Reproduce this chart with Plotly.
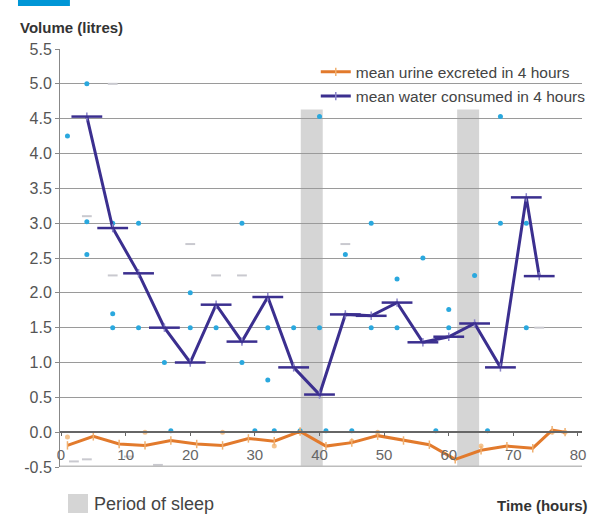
import plotly.graph_objects as go

# Mean water consumed in each 4-hour block (litres)
water_hours = [4, 8, 12, 16, 20, 24, 28, 32, 36, 40, 44, 48, 52, 56, 60, 64, 68, 72, 74]
water_mean = [4.53, 2.93, 2.28, 1.50, 1.00, 1.83, 1.30, 1.94, 0.93, 0.54,
              1.69, 1.67, 1.86, 1.29, 1.37, 1.56, 0.93, 3.37, 2.24]

# Mean urine excreted in each 4-hour block (plotted as negative volume)
urine_hours = [1, 5, 9, 13, 17, 21, 25, 29, 33, 37, 41, 45, 49, 53, 57, 61, 65, 69, 73, 76, 78]
urine_mean = [-0.19, -0.06, -0.17, -0.19, -0.12, -0.17, -0.19, -0.09, -0.13, 0.01, -0.20,
              -0.15, -0.05, -0.12, -0.18, -0.39, -0.26, -0.20, -0.23, 0.03, 0.0]

# Individual water readings
water_pts_x = [1, 4, 4, 4, 8, 8, 8, 12, 12, 16, 20, 20, 24, 28, 28, 32, 32, 36, 40, 40,
               44, 48, 48, 52, 52, 56, 60, 60, 64, 68, 68, 72, 72,
               17, 30, 33, 37, 41, 45, 58, 66]
water_pts_y = [4.25, 5.0, 3.02, 2.55, 3.0, 1.7, 1.5, 3.0, 1.5, 1.0, 2.0, 1.5, 1.5, 3.0, 1.0,
               0.75, 1.5, 1.5, 4.53, 1.5, 2.55, 3.0, 1.5, 2.2, 1.5, 2.5, 1.76, 1.5, 2.25,
               4.53, 3.0, 3.0, 1.5,
               0.02, 0.02, 0.02, 0.02, 0.02, 0.02, 0.02, 0.02]

# Spread markers (light dashes)
spread_x = [4, 8, 8, 20, 24, 28, 44, 74, 4, 15, 10.5, 2]
spread_y = [3.1, 5.0, 2.25, 2.7, 2.25, 2.25, 2.7, 1.5, -0.39, -0.47, -0.35, -0.42]

# Individual urine readings
urine_pts_x = [1, 13, 25, 33, 45, 49, 65, 76, 78]
urine_pts_y = [-0.07, 0.0, 0.0, -0.2, -0.13, 0.0, -0.2, 0.0, 0.0]

# Sleep periods (start hour, end hour) and shaded height
sleep_periods = [(37.1, 40.5), (61.3, 64.7)]
sleep_top = 4.63

y_tick_vals = [-0.5, 0.0, 0.5, 1.0, 1.5, 2.0, 2.5, 3.0, 3.5, 4.0, 4.5, 5.0, 5.5]
y_tick_text = ["-0.5", "0.0", "0.5", "1.0", "1.5", "2.0", "2.5", "3.0", "3.5", "4.0", "4.5", "5.0", "5.5"]
x_tick_vals = [0, 10, 20, 30, 40, 50, 60, 70, 80]
x_tick_text = ["0", "10", "20", "30", "40", "50", "60", "70", "80"]

WATER = "#3b2f8f"
URINE = "#e27a2c"
CYAN = "#2aa8de"
FONT = "Liberation Sans, Arial, sans-serif"

fig = go.Figure()

fig.add_trace(go.Scatter(
    x=spread_x, y=spread_y, mode="markers", showlegend=False, hoverinfo="skip",
    marker=dict(symbol="line-ew", size=7, line=dict(color="#c9c9cf", width=2)),
))
fig.add_trace(go.Scatter(
    x=urine_pts_x, y=urine_pts_y, mode="markers", showlegend=False, hoverinfo="skip",
    marker=dict(symbol="circle", size=5, color="#f5c48f"),
))
fig.add_trace(go.Scatter(
    x=water_pts_x, y=water_pts_y, mode="markers", showlegend=False, hoverinfo="skip",
    marker=dict(symbol="circle", size=5, color=CYAN),
))

# Urine mean line
fig.add_trace(go.Scatter(
    x=urine_hours, y=urine_mean, mode="lines+markers",
    name="mean urine excreted in 4 hours", legend="legend",
    line=dict(color=URINE, width=3),
    marker=dict(symbol="line-ns", size=6, line=dict(color="#f0b070", width=1.5)),
))

# Water mean line
fig.add_trace(go.Scatter(
    x=water_hours, y=water_mean, mode="lines+markers",
    name="mean water consumed in 4 hours", legend="legend2",
    line=dict(color=WATER, width=3),
    marker=dict(symbol="line-ns", size=6, line=dict(color="#8a84c8", width=1.5)),
))
# Wide horizontal bars at each mean
fig.add_trace(go.Scatter(
    x=water_hours, y=water_mean, mode="markers", showlegend=False, hoverinfo="skip",
    marker=dict(symbol="line-ew", size=22, line=dict(color=WATER, width=2.5)),
))

shapes = []
for x0, x1 in sleep_periods:
    shapes.append(dict(type="rect", xref="x", yref="y", x0=x0, x1=x1, y0=-0.5, y1=sleep_top,
                       fillcolor="#d5d5d5", line=dict(width=0), layer="below"))
# Bottom border
shapes.append(dict(type="line", xref="paper", yref="y", x0=0, x1=1, y0=-0.5, y1=-0.5,
                   line=dict(color="#bdbdbd", width=3)))
# "Period of sleep" key swatch
shapes.append(dict(type="rect", xref="paper", yref="paper", x0=0.0153, x1=0.0536,
                   y0=-0.110, y1=-0.0646, fillcolor="#d5d5d5", line=dict(width=0)))
# Blue header tab
shapes.append(dict(type="rect", xref="paper", yref="paper", x0=-0.0805, x1=0.019,
                   y0=1.103, y1=1.13, fillcolor="#0096d6", line=dict(width=0)))

fig.update_layout(
    width=595, height=515,
    margin=dict(l=60, r=13, t=49, b=48, autoexpand=False),
    paper_bgcolor="white", plot_bgcolor="white",
    font=dict(family=FONT, color="#555555", size=14),
    shapes=shapes,
    legend=dict(x=0.49, y=0.985, xanchor="left", yanchor="top", bgcolor="rgba(0,0,0,0)",
                font=dict(size=15.5, color="#444444"), borderwidth=0),
    legend2=dict(x=0.49, y=0.927, xanchor="left", yanchor="top", bgcolor="rgba(0,0,0,0)",
                 font=dict(size=15.5, color="#444444"), borderwidth=0),
    xaxis=dict(
        range=[-0.155, 80.62], anchor="free", position=0.5 / 6,
        tickvals=x_tick_vals, ticktext=x_tick_text,
        showgrid=False, zeroline=False,
        showline=True, linecolor="#666666", linewidth=1.5,
        ticks="outside", ticklen=3, tickcolor="#666666",
        ticklabelstandoff=6,
        tickfont=dict(size=15, color="#666666"),
    ),
    yaxis=dict(
        range=[-0.5, 5.5], tickvals=y_tick_vals, ticktext=y_tick_text,
        showgrid=True, gridcolor="#9a9a9a", gridwidth=1, zeroline=False,
        showline=True, linecolor="#888888", linewidth=1,
        ticks="outside", ticklen=4, tickcolor="#888888",
        tickfont=dict(size=16, color="#555555"),
    ),
    annotations=[
        dict(text="<b>Volume (litres)</b>", xref="paper", yref="paper", x=-0.0805, y=1.052,
             xanchor="left", yanchor="middle", showarrow=False,
             font=dict(size=15, color="#333333")),
        dict(text="<b>Time (hours)</b>", xref="paper", yref="paper", x=1.015, y=-0.091,
             xanchor="right", yanchor="middle", showarrow=False,
             font=dict(size=15, color="#333333")),
        dict(text="Period of sleep", xref="paper", yref="paper", x=0.0613, y=-0.088,
             xanchor="left", yanchor="middle", showarrow=False,
             font=dict(size=18, color="#444444")),
    ],
)

fig.write_html("out.html")
